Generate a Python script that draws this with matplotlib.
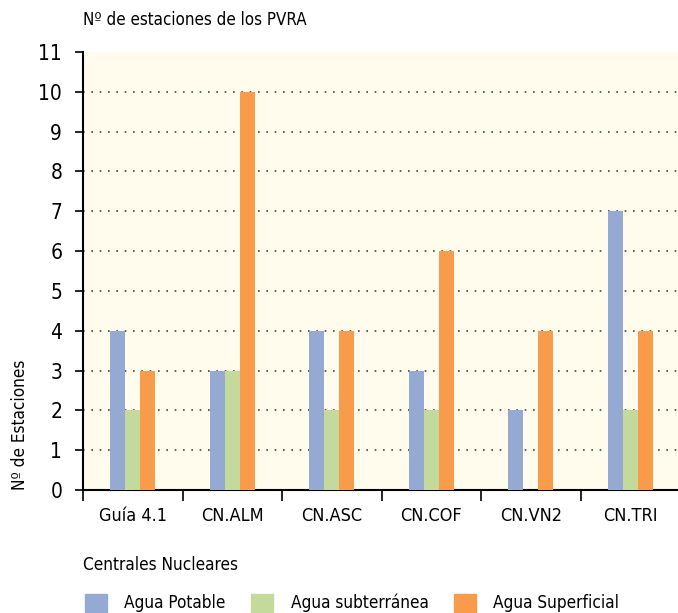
import numpy as np
import matplotlib
matplotlib.use("Agg")
from matplotlib import pyplot as plt
from matplotlib.patches import Patch

plt.rcParams["font.family"] = ["DejaVu Sans"]
plt.rcParams["font.stretch"] = "condensed"

categories = ["Guía 4.1", "CN.ALM", "CN.ASC", "CN.COF", "CN.VN2", "CN.TRI"]
agua_potable = [4, 3, 4, 3, 2, 7]
agua_subterranea = [2, 3, 2, 2, 0, 2]
agua_superficial = [3, 10, 4, 6, 4, 4]
series_names = ["Agua Potable", "Agua subterránea", "Agua Superficial"]
colors = ["#94AAD2", "#C4D99C", "#F89C4C"]

fig = plt.figure(figsize=(6.78, 6.13), dpi=100)
ax = fig.add_axes([83 / 678, 1 - 490 / 613, 597 / 678, 438 / 613])
ax.set_facecolor("#FFFCEE")

x = np.arange(len(categories))
w = 0.152
for i, vals in enumerate([agua_potable, agua_subterranea, agua_superficial]):
    ax.bar(x + (i - 1) * w, vals, width=w, color=colors[i], zorder=3)

ax.set_xlim(-0.5, len(categories) - 0.5)
ax.set_ylim(0, 11)
ax.set_yticks(range(0, 12))
ax.set_xticks(x)
ax.set_xticklabels(categories, fontsize=13)
ax.set_xticks(np.arange(-0.5, len(categories)), minor=True)
ax.tick_params(axis="x", which="major", length=0, pad=12)
ax.tick_params(axis="x", which="minor", length=8, width=1.2, direction="out")
ax.tick_params(axis="y", labelsize=15, length=6, width=1.2, pad=9)

for v in range(1, 11):
    ax.axhline(v, color="#444444", linestyle=(0, (1, 4)), linewidth=1.2, zorder=1)

for s in ["top", "right"]:
    ax.spines[s].set_visible(False)
ax.spines["left"].set_linewidth(1.5)
ax.spines["bottom"].set_linewidth(1.5)

fig.text(83 / 678, 1 - 20 / 613, "Nº de estaciones de los PVRA", fontsize=12.2, va="center", ha="left")
fig.text(20 / 678, 1 - 425 / 613, "Nº de Estaciones", fontsize=12.3, rotation=90, va="center", ha="center")
fig.text(83 / 678, 1 - 565 / 613, "Centrales Nucleares", fontsize=12.3, va="center", ha="left")

handles = [Patch(color=c) for c in colors]
fig.legend(handles, series_names, loc="center left", bbox_to_anchor=(85 / 678, 1 - 603 / 613),
           ncol=3, frameon=False, fontsize=12.3, handlelength=1.27, handleheight=1.27,
           handletextpad=1.03, columnspacing=1.5, borderaxespad=0, borderpad=0)

fig.savefig("out.png", dpi=100)
